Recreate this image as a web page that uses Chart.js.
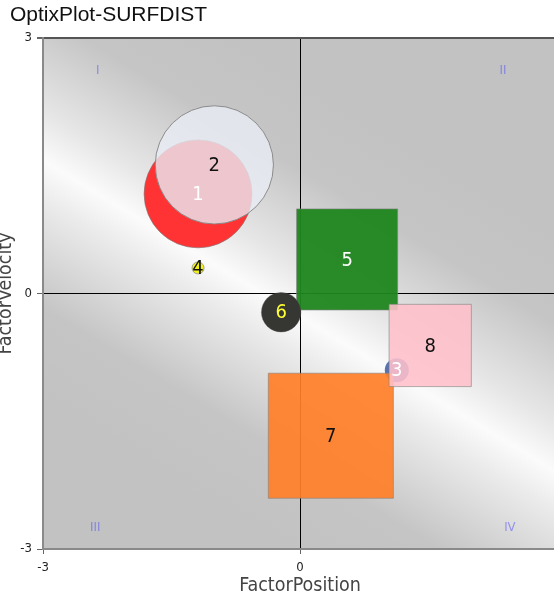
<!DOCTYPE html>
<html>
<head>
<meta charset="utf-8">
<script src="https://cdn.jsdelivr.net/npm/chart.js@4/dist/chart.umd.min.js"></script>
<style>
  html, body { margin: 0; padding: 0; background: #fff; overflow: hidden; }
  #wrap { position: relative; width: 554px; height: 599px; overflow: hidden; }
  #surfChart { position: absolute; left: -4px; top: 0; }
</style>
</head>
<body>
<div id="wrap"><canvas id="surfChart" width="590" height="599"></canvas></div>
<script>
// Chart data
const chartTitle = 'OptixPlot-SURFDIST';
const itemLabels = ['1', '2', '3', '4', '5', '6', '7', '8'];
const factorPosition = [-1.19, -1.00, 1.13, -1.19, 0.55, -0.22, 0.36, 1.52];
const factorVelocity = [1.17, 1.51, -0.90, 0.30, 0.40, -0.22, -1.67, -0.61];
// radius (circles) or half side (squares), in FactorPosition units
const itemSizes = [0.63, 0.69, 0.14, 0.07, 0.59, 0.23, 0.73, 0.48];
const itemShapes = ['circle', 'circle', 'circle', 'circle', 'rect', 'circle', 'rect', 'rect'];
const quadrantLabels = ['I', 'II', 'III', 'IV'];
const quadrantX = [-2.36, 2.37, -2.39, 2.45];
const quadrantY = [2.62, 2.62, -2.75, -2.75];
const axisTicks = [-3, 0, 3];

// Styles
const fillColors = [
    'rgba(255, 51, 51, 1)',
    'rgba(232, 236, 244, 0.8)',
    'rgba(70, 100, 170, 0.9)',
    'rgba(240, 240, 30, 1)',
    'rgba(30, 134, 30, 0.95)',
    'rgba(54, 54, 50, 1)',
    'rgba(255, 127, 39, 0.92)',
    'rgba(255, 192, 203, 0.88)'
];
const borderColors = [
    'rgba(120, 120, 120, 0.6)',
    'rgba(130, 130, 130, 0.9)',
    'rgba(70, 100, 170, 0)',
    'rgba(140, 140, 140, 0.8)',
    'rgba(130, 130, 130, 0.6)',
    'rgba(80, 80, 80, 0.4)',
    'rgba(130, 130, 130, 0.6)',
    'rgba(130, 130, 130, 0.6)'
];
const labelColors = ['#ffffff', '#111111', '#ffffff', '#111111', '#ffffff', '#ffff33', '#111111', '#111111'];

const condensed = "'DejaVu Sans Condensed', 'DejaVu Sans', sans-serif";

function sizeToRadius(ctx) {
    const i = ctx.dataIndex;
    const xs = ctx.chart.scales.x;
    if (!xs) return 0;
    const px = Math.abs(xs.getPixelForValue(itemSizes[i]) - xs.getPixelForValue(0));
    return itemShapes[i] === 'rect' ? px / Math.SQRT1_2 : px;
}

// Shiny diagonal background of the plot area
const backgroundPlugin = {
    id: 'surfBackground',
    beforeDraw(chart) {
        const {ctx, chartArea: a} = chart;
        const w = a.right - a.left;
        const h = a.bottom - a.top;
        const cx = a.left + w * 0.5;
        const cy = a.top + h * 0.545;
        const nx = 0.519, ny = -0.855, len = 210;
        const grad = ctx.createLinearGradient(cx - nx * len, cy - ny * len, cx + nx * len, cy + ny * len);
        grad.addColorStop(0, '#c2c2c2');
        grad.addColorStop(0.2, '#c5c5c5');
        grad.addColorStop(0.42, '#ebebeb');
        grad.addColorStop(0.5, '#fbfbfb');
        grad.addColorStop(0.6, '#e6e6e6');
        grad.addColorStop(0.8, '#c5c5c5');
        grad.addColorStop(1, '#c2c2c2');
        ctx.save();
        ctx.fillStyle = grad;
        ctx.fillRect(a.left, a.top, w, h);
        ctx.restore();
    }
};

// Item numbers, quadrant names and chart title
const textPlugin = {
    id: 'surfText',
    afterDatasetsDraw(chart) {
        const {ctx} = chart;
        const meta = chart.getDatasetMeta(0);
        ctx.save();
        ctx.textAlign = 'center';
        ctx.textBaseline = 'middle';
        ctx.font = '13px ' + condensed;
        ctx.fillStyle = 'rgba(70, 70, 255, 0.5)';
        quadrantLabels.forEach((q, i) => {
            ctx.fillText(q, chart.scales.x.getPixelForValue(quadrantX[i]), chart.scales.y.getPixelForValue(quadrantY[i]));
        });
        ctx.font = '20px ' + condensed;
        meta.data.forEach((pt, i) => {
            ctx.fillStyle = labelColors[i];
            ctx.fillText(itemLabels[i], pt.x, pt.y + 1);
        });
        ctx.restore();
    },
    afterDraw(chart) {
        const {ctx} = chart;
        ctx.save();
        ctx.font = "21px 'Liberation Sans', Arial, sans-serif";
        ctx.fillStyle = '#111';
        ctx.textAlign = 'left';
        ctx.textBaseline = 'alphabetic';
        ctx.fillText(chartTitle, 14, 21);
        ctx.restore();
    }
};

function gridColor(ctx) {
    if (ctx.tick.value === 0) return '#000000';
    if (ctx.tick.value === 3) return '#555555';
    return 'rgba(0,0,0,0)';
}

function gridWidth(ctx) {
    return ctx.tick.value === 3 ? 2 : 1;
}

new Chart(document.getElementById('surfChart'), {
    type: 'scatter',
    data: {
        labels: itemLabels,
        datasets: [{
            label: 'Items',
            data: factorPosition.map((x, i) => ({x: x, y: factorVelocity[i]})),
            backgroundColor: fillColors,
            borderColor: borderColors,
            borderWidth: 1,
            pointStyle: itemShapes,
            pointRadius: sizeToRadius,
            pointHoverRadius: sizeToRadius
        }]
    },
    options: {
        responsive: false,
        animation: false,
        events: [],
        layout: {
            padding: {top: 38, left: 0, right: 29, bottom: 0}
        },
        plugins: {
            legend: {display: false},
            tooltip: {enabled: false},
            title: {display: false}
        },
        scales: {
            x: {
                type: 'linear',
                min: -3,
                max: 3,
                afterBuildTicks: (scale) => { scale.ticks = axisTicks.map(v => ({value: v})); },
                afterFit: (scale) => { scale.height = 50; },
                grid: {color: gridColor, lineWidth: gridWidth, tickColor: '#666', tickLength: 5},
                border: {color: '#8a8a8a', width: 2},
                ticks: {color: '#222', padding: 6, font: {size: 13, family: condensed}},
                title: {
                    display: true,
                    text: 'FactorPosition',
                    color: '#444',
                    font: {size: 19.5, family: condensed, lineHeight: 1},
                    padding: {top: 0, bottom: 3.5}
                }
            },
            y: {
                type: 'linear',
                min: -3,
                max: 3,
                afterBuildTicks: (scale) => { scale.ticks = axisTicks.map(v => ({value: v})); },
                afterFit: (scale) => { scale.width = 47; },
                grid: {color: gridColor, lineWidth: gridWidth, tickColor: '#666', tickLength: 6},
                border: {color: '#8a8a8a', width: 2},
                ticks: {color: '#222', padding: 5, font: {size: 13, family: condensed}},
                title: {
                    display: true,
                    text: 'FactorVelocity',
                    color: '#444',
                    font: {size: 19.5, family: condensed, lineHeight: 1},
                    padding: {top: 0, bottom: 0}
                }
            }
        }
    },
    plugins: [backgroundPlugin, textPlugin]
});
</script>
</body>
</html>
